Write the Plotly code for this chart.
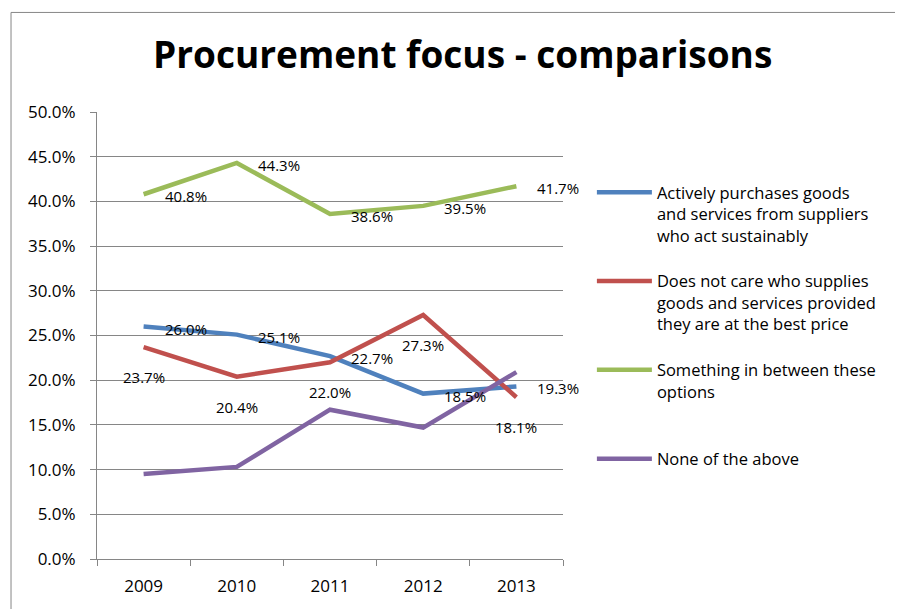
import plotly.graph_objects as go

years = ["2009", "2010", "2011", "2012", "2013"]

actively = [26.0, 25.1, 22.7, 18.5, 19.3]
best_price = [23.7, 20.4, 22.0, 27.3, 18.1]
in_between = [40.8, 44.3, 38.6, 39.5, 41.7]
none_above = [9.5, 10.3, 16.7, 14.7, 20.9]

names = [
    "Actively purchases goods<br>and services from suppliers<br>who act sustainably<br> ",
    "Does not care who supplies<br>goods and services provided<br>they are at the best price<br> ",
    "Something in between these<br>options<br> <br> ",
    "None of the above<br> <br> <br> ",
]
colors = ["#4F81BD", "#C0504D", "#9BBB59", "#8064A2"]
series = [actively, best_price, in_between, none_above]

grey = "#868686"

fig = go.Figure()
for vals, name, col in zip(series, names, colors):
    fig.add_trace(go.Scatter(x=years, y=vals, mode="lines", name=name,
                             line=dict(color=col, width=4.5)))

# data labels: blue and green sit to the right, red sits below, purple has none
# (category index used for x, numeric-looking strings would be read as indices)
for vals in [actively, in_between]:
    for i, v in enumerate(vals):
        fig.add_annotation(x=i, y=v, text=f"{v:.1f}%", showarrow=False,
                           xanchor="left", xshift=19, yshift=-2,
                           font=dict(size=15, color="black"))
for i, v in enumerate(best_price):
    fig.add_annotation(x=i, y=v, text=f"{v:.1f}%", showarrow=False,
                       xanchor="center", yshift=-30,
                       font=dict(size=15, color="black"))

# chart border
fig.add_shape(type="rect", xref="paper", yref="paper",
              x0=-0.1845, x1=1.75, y0=-0.15, y1=1.2227,
              line=dict(color=grey, width=1))

fig.update_layout(
    width=895, height=601,
    margin=dict(l=89, r=340, t=104, b=48),
    paper_bgcolor="white", plot_bgcolor="white",
    font=dict(family="Open Sans", size=17, color="black"),
    title=dict(text="Procurement focus - comparisons", x=0.508, xanchor="center",
               y=0.922, yanchor="middle", yref="container",
               font=dict(size=37, weight=700, color="black")),
    legend=dict(x=1.062, xanchor="left", y=0.859, yanchor="top", valign="top",
                bgcolor="rgba(0,0,0,0)", font=dict(size=16.5), itemwidth=55,
                tracegroupgap=0),
    showlegend=True,
)
fig.update_xaxes(type="category", range=[-0.5, 4.5], tickson="boundaries",
                 ticks="outside", ticklen=6, tickcolor=grey, showline=True,
                 linecolor=grey, linewidth=1, showgrid=False, tickfont=dict(size=17),
                 ticklabelstandoff=12)
fig.update_yaxes(range=[0, 50], dtick=5, tickformat=".1f", ticksuffix="%",
                 ticks="outside", ticklen=6, tickcolor=grey, showline=True,
                 linecolor=grey, linewidth=1, gridcolor=grey, gridwidth=1,
                 zeroline=False, tickfont=dict(size=17), ticklabelstandoff=11)

fig.write_html("out.html")
